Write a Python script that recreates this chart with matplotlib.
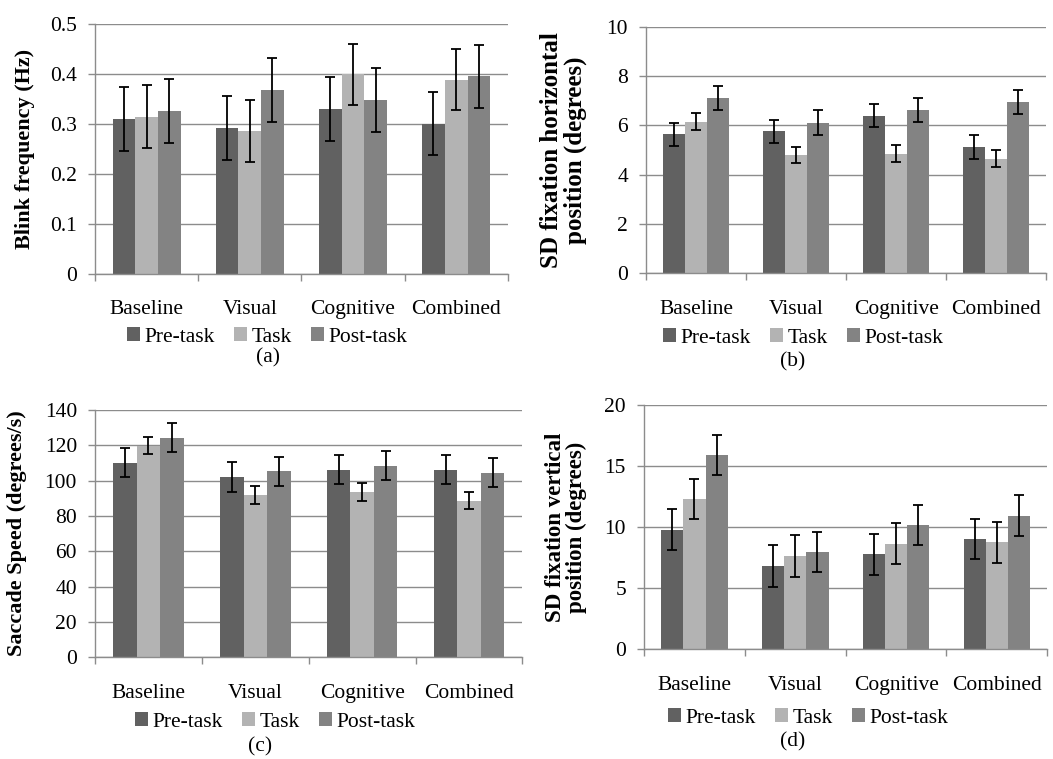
import numpy as np
import matplotlib
matplotlib.use("Agg")
import matplotlib.pyplot as plt
from matplotlib.patches import Patch

categories = ["Baseline", "Visual", "Cognitive", "Combined"]
series = ["Pre-task", "Task", "Post-task"]
colors = ["#616161", "#b3b3b3", "#838383"]

# (a) blink frequency
blink_mean = [[0.311, 0.292, 0.331, 0.301],
              [0.315, 0.286, 0.400, 0.389],
              [0.326, 0.368, 0.348, 0.396]]
blink_err = [[0.064, 0.064, 0.064, 0.063],
             [0.063, 0.062, 0.061, 0.061],
             [0.064, 0.064, 0.064, 0.063]]

# (b) SD fixation horizontal
horiz_mean = [[5.63, 5.75, 6.39, 5.13],
              [6.15, 4.80, 4.85, 4.64],
              [7.12, 6.10, 6.62, 6.95]]
horiz_err = [[0.46, 0.48, 0.46, 0.48],
             [0.33, 0.33, 0.33, 0.35],
             [0.49, 0.51, 0.48, 0.48]]

# (c) saccade speed
speed_mean = [[110.2, 102.1, 106.2, 106.2],
              [119.8, 91.9, 93.4, 88.7],
              [124.3, 105.3, 108.5, 104.5]]
speed_err = [[8.4, 8.4, 8.2, 8.2],
             [4.6, 5.0, 5.2, 4.7],
             [8.3, 8.3, 8.3, 8.4]]

# (d) SD fixation vertical
vert_mean = [[9.81, 6.83, 7.79, 9.02],
             [12.35, 7.62, 8.66, 8.77],
             [15.90, 7.98, 10.16, 10.96]]
vert_err = [[1.67, 1.72, 1.67, 1.65],
            [1.65, 1.72, 1.67, 1.67],
            [1.65, 1.66, 1.65, 1.67]]

plt.rcParams['font.family'] = ['Liberation Serif', 'DejaVu Serif']
fs = 15.5
tick_fs = 15.5
grid_col = "#8c8c8c"

fig = plt.figure(figsize=(10.53, 7.59), dpi=100)

panels = [
    # rect, means, errs, ymax, ticks, ticklabels, ylabel, ylabel size, label_x, legend_x, legend_y, cap_x, cap_y, cap
    ([0.0902, 0.639, 0.392, 0.329], blink_mean, blink_err, 0.5,
     [0, 0.1, 0.2, 0.3, 0.4, 0.5], ["0", "0.1", "0.2", "0.3", "0.4", "0.5"],
     "Blink frequency (Hz)", 16, -0.145, 267, 337, 268, 358, "(a)"),
    ([0.6135, 0.640, 0.380, 0.325], horiz_mean, horiz_err, 10,
     [0, 2, 4, 6, 8, 10], ["0", "2", "4", "6", "8", "10"],
     "SD fixation horizontal\nposition (degrees)", 18, -0.148, 803, 338, 793, 362, "(b)"),
    ([0.0902, 0.134, 0.406, 0.326], speed_mean, speed_err, 140,
     [0, 20, 40, 60, 80, 100, 120, 140], ["0", "20", "40", "60", "80", "100", "120", "140"],
     "Saccade Speed (degrees/s)", 16, -0.159, 275, 722, 260, 747, "(c)"),
    ([0.6116, 0.1445, 0.383, 0.3215], vert_mean, vert_err, 20,
     [0, 5, 10, 15, 20], ["0", "5", "10", "15", "20"],
     "SD fixation vertical\nposition (degrees)", 16.5, -0.141, 808, 718, 793, 742, "(d)"),
]

W, H = 1053.0, 759.0
bw = 0.22
x = np.arange(len(categories))

for rect, means, errs, ymax, ticks, tlabels, ylabel, ysz, lx, legx, legy, cx, cy, cap in panels:
    ax = fig.add_axes(rect)
    for i in range(3):
        ax.bar(x + (i - 1) * bw, means[i], bw, color=colors[i], zorder=2)
        ax.errorbar(x + (i - 1) * bw, means[i], yerr=errs[i], fmt='none',
                    ecolor='black', elinewidth=1.3, capsize=3.5, capthick=1.3, zorder=3)
    ax.set_xlim(-0.5, 3.5)
    ax.set_ylim(0, ymax)
    ax.set_yticks(ticks)
    ax.set_yticklabels(tlabels, fontsize=tick_fs)
    ax.yaxis.grid(True, color=grid_col, linewidth=1.0, zorder=0)
    ax.set_axisbelow(True)
    ax.set_xticks(x)
    ax.set_xticklabels(categories, fontsize=fs)
    ax.set_xticks(np.arange(-0.5, 4, 1.0), minor=True)
    ax.tick_params(axis='x', which='major', length=0, pad=19)
    ax.tick_params(axis='x', which='minor', length=5, color=grid_col, width=1.0)
    ax.tick_params(axis='y', length=5, color=grid_col, width=1.0, pad=8)
    for s in ['top', 'right']:
        ax.spines[s].set_visible(False)
    for s in ['left', 'bottom']:
        ax.spines[s].set_color(grid_col)
        ax.spines[s].set_linewidth(1.0)
    ax.set_ylabel(ylabel, fontsize=ysz, fontweight='bold', linespacing=1.0)
    ax.yaxis.set_label_coords(lx, 0.5)

    handles = [Patch(facecolor=c, edgecolor='none') for c in colors]
    fig.legend(handles, series, loc='center', bbox_to_anchor=(legx / W, 1 - legy / H),
               ncol=3, frameon=False, fontsize=fs, handlelength=0.6, handleheight=0.6,
               handletextpad=0.2, columnspacing=0.9, borderpad=0, borderaxespad=0)
    fig.text(cx / W, 1 - cy / H, cap, ha='center', va='center', fontsize=fs)

fig.savefig("out.png", dpi=100)
